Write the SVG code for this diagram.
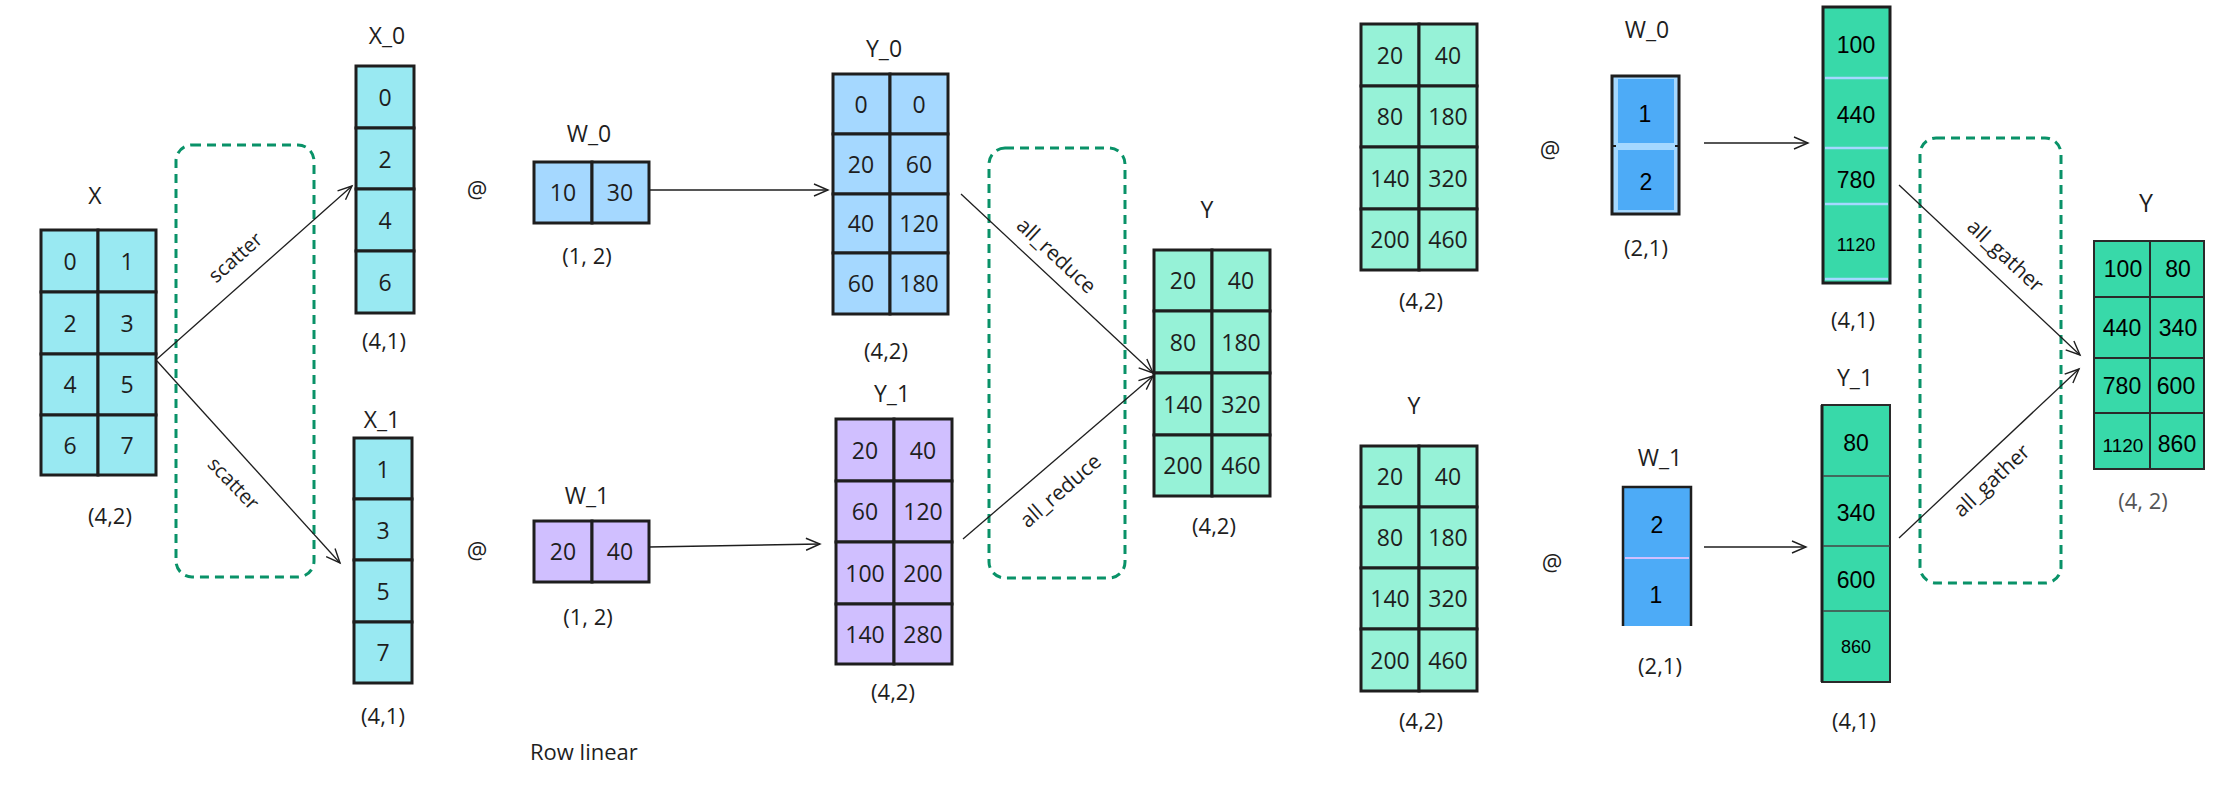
<svg xmlns="http://www.w3.org/2000/svg" width="2225" height="785" viewBox="0 0 2225 785">
<defs>
<marker id="arr" markerUnits="userSpaceOnUse" markerWidth="18" markerHeight="14" refX="15" refY="7" orient="auto">
<path d="M1,1 L15,7 L1,13" fill="none" stroke="#1e1e1e" stroke-width="1.4"/>
</marker>
</defs>
<style>
text{font-family:"Open Sans","Noto Sans","Liberation Sans",sans-serif;fill:#1e1e1e;text-anchor:middle;dominant-baseline:central}
.v{font-size:23px}
.l{font-size:22px}
.n{font-size:23px}
.s{font-size:20px}
.a{font-family:"Liberation Sans",Arial,sans-serif;fill:#000;font-size:23px}
.as{font-family:"Liberation Sans",Arial,sans-serif;fill:#000;font-size:18px}
.cy{fill:#99e9f2;stroke:#1e1e1e;stroke-width:3}
.lb{fill:#a5d8ff;stroke:#1e1e1e;stroke-width:3}
.pu{fill:#d0bfff;stroke:#1e1e1e;stroke-width:3}
.mi{fill:#96f2d7;stroke:#1e1e1e;stroke-width:3}
.gr{fill:#38d9a9;stroke:#1e1e1e;stroke-width:3}
.gr2{fill:#38d9a9;stroke:#2a2a2a;stroke-width:2}
.bl{fill:#4dabf7}
.dash{fill:none;stroke:#099268;stroke-width:3;stroke-dasharray:9 6}
.c{fill:none;stroke:#1e1e1e;stroke-width:1.3;marker-end:url(#arr)}
</style>

<g id="group-dashed">
<rect class="dash" x="176" y="145" width="138" height="432" rx="16"/>
<rect class="dash" x="989" y="148" width="136" height="430" rx="16"/>
<rect class="dash" x="1920" y="138" width="141" height="445" rx="16"/>
</g>

<g id="node-X">
<text class="n" x="95" y="195">X</text>
<rect class="cy" x="41" y="230" width="57" height="62"/><rect class="cy" x="98" y="230" width="58" height="62"/>
<rect class="cy" x="41" y="292" width="57" height="62"/><rect class="cy" x="98" y="292" width="58" height="62"/>
<rect class="cy" x="41" y="354" width="57" height="61"/><rect class="cy" x="98" y="354" width="58" height="61"/>
<rect class="cy" x="41" y="415" width="57" height="60"/><rect class="cy" x="98" y="415" width="58" height="60"/>
<text class="v" x="70" y="261">0</text><text class="v" x="127" y="261">1</text>
<text class="v" x="70" y="323">2</text><text class="v" x="127" y="323">3</text>
<text class="v" x="70" y="384">4</text><text class="v" x="127" y="384">5</text>
<text class="v" x="70" y="445">6</text><text class="v" x="127" y="445">7</text>
<text class="l" x="110" y="515">(4,2)</text>
</g>

<g id="node-X0">
<text class="n" x="387" y="35">X_0</text>
<rect class="cy" x="356" y="66" width="58" height="62"/>
<rect class="cy" x="356" y="128" width="58" height="61"/>
<rect class="cy" x="356" y="189" width="58" height="62"/>
<rect class="cy" x="356" y="251" width="58" height="62"/>
<text class="v" x="385" y="97">0</text><text class="v" x="385" y="159">2</text>
<text class="v" x="385" y="220">4</text><text class="v" x="385" y="282">6</text>
<text class="l" x="384" y="340">(4,1)</text>
</g>

<g id="node-X1">
<text class="n" x="382" y="419">X_1</text>
<rect class="cy" x="354" y="438" width="58" height="61"/>
<rect class="cy" x="354" y="499" width="58" height="61"/>
<rect class="cy" x="354" y="560" width="58" height="62"/>
<rect class="cy" x="354" y="622" width="58" height="61"/>
<text class="v" x="383" y="469">1</text><text class="v" x="383" y="530">3</text>
<text class="v" x="383" y="591">5</text><text class="v" x="383" y="652">7</text>
<text class="l" x="383" y="715">(4,1)</text>
</g>

<g id="node-at1"><text class="v" x="477" y="189">@</text></g>
<g id="node-at2"><text class="v" x="477" y="550">@</text></g>

<g id="node-W0">
<text class="n" x="589" y="133">W_0</text>
<rect class="lb" x="534" y="162" width="58" height="61"/><rect class="lb" x="592" y="162" width="57" height="61"/>
<text class="v" x="563" y="192">10</text><text class="v" x="620" y="192">30</text>
<text class="l" x="587" y="255">(1, 2)</text>
</g>

<g id="node-W1">
<text class="n" x="587" y="495">W_1</text>
<rect class="pu" x="534" y="521" width="58" height="61"/><rect class="pu" x="592" y="521" width="57" height="61"/>
<text class="v" x="563" y="551">20</text><text class="v" x="620" y="551">40</text>
<text class="l" x="588" y="616">(1, 2)</text>
</g>

<g id="node-Y0">
<text class="n" x="884" y="48">Y_0</text>
<rect class="lb" x="833" y="74" width="57" height="60"/><rect class="lb" x="890" y="74" width="58" height="60"/>
<rect class="lb" x="833" y="134" width="57" height="60"/><rect class="lb" x="890" y="134" width="58" height="60"/>
<rect class="lb" x="833" y="194" width="57" height="59"/><rect class="lb" x="890" y="194" width="58" height="59"/>
<rect class="lb" x="833" y="253" width="57" height="61"/><rect class="lb" x="890" y="253" width="58" height="61"/>
<text class="v" x="861" y="104">0</text><text class="v" x="919" y="104">0</text>
<text class="v" x="861" y="164">20</text><text class="v" x="919" y="164">60</text>
<text class="v" x="861" y="223">40</text><text class="v" x="919" y="223">120</text>
<text class="v" x="861" y="283">60</text><text class="v" x="919" y="283">180</text>
<text class="l" x="886" y="350">(4,2)</text>
</g>

<g id="node-Y1">
<text class="n" x="892" y="393">Y_1</text>
<rect class="pu" x="836" y="419" width="58" height="62"/><rect class="pu" x="894" y="419" width="58" height="62"/>
<rect class="pu" x="836" y="481" width="58" height="61"/><rect class="pu" x="894" y="481" width="58" height="61"/>
<rect class="pu" x="836" y="542" width="58" height="62"/><rect class="pu" x="894" y="542" width="58" height="62"/>
<rect class="pu" x="836" y="604" width="58" height="60"/><rect class="pu" x="894" y="604" width="58" height="60"/>
<text class="v" x="865" y="450">20</text><text class="v" x="923" y="450">40</text>
<text class="v" x="865" y="511">60</text><text class="v" x="923" y="511">120</text>
<text class="v" x="865" y="573">100</text><text class="v" x="923" y="573">200</text>
<text class="v" x="865" y="634">140</text><text class="v" x="923" y="634">280</text>
<text class="l" x="893" y="691">(4,2)</text>
</g>

<g id="node-Y">
<text class="n" x="1207" y="209">Y</text>
<rect class="mi" x="1154" y="250" width="58" height="61"/><rect class="mi" x="1212" y="250" width="58" height="61"/>
<rect class="mi" x="1154" y="311" width="58" height="62"/><rect class="mi" x="1212" y="311" width="58" height="62"/>
<rect class="mi" x="1154" y="373" width="58" height="62"/><rect class="mi" x="1212" y="373" width="58" height="62"/>
<rect class="mi" x="1154" y="435" width="58" height="61"/><rect class="mi" x="1212" y="435" width="58" height="61"/>
<text class="v" x="1183" y="280">20</text><text class="v" x="1241" y="280">40</text>
<text class="v" x="1183" y="342">80</text><text class="v" x="1241" y="342">180</text>
<text class="v" x="1183" y="404">140</text><text class="v" x="1241" y="404">320</text>
<text class="v" x="1183" y="465">200</text><text class="v" x="1241" y="465">460</text>
<text class="l" x="1214" y="525">(4,2)</text>
</g>

<g id="node-Ytop">
<rect class="mi" x="1361" y="24" width="58" height="62"/><rect class="mi" x="1419" y="24" width="58" height="62"/>
<rect class="mi" x="1361" y="86" width="58" height="61"/><rect class="mi" x="1419" y="86" width="58" height="61"/>
<rect class="mi" x="1361" y="147" width="58" height="62"/><rect class="mi" x="1419" y="147" width="58" height="62"/>
<rect class="mi" x="1361" y="209" width="58" height="61"/><rect class="mi" x="1419" y="209" width="58" height="61"/>
<text class="v" x="1390" y="55">20</text><text class="v" x="1448" y="55">40</text>
<text class="v" x="1390" y="116">80</text><text class="v" x="1448" y="116">180</text>
<text class="v" x="1390" y="178">140</text><text class="v" x="1448" y="178">320</text>
<text class="v" x="1390" y="239">200</text><text class="v" x="1448" y="239">460</text>
<text class="l" x="1421" y="300">(4,2)</text>
</g>

<g id="node-Ybot">
<text class="n" x="1414" y="405">Y</text>
<rect class="mi" x="1361" y="446" width="58" height="61"/><rect class="mi" x="1419" y="446" width="58" height="61"/>
<rect class="mi" x="1361" y="507" width="58" height="61"/><rect class="mi" x="1419" y="507" width="58" height="61"/>
<rect class="mi" x="1361" y="568" width="58" height="61"/><rect class="mi" x="1419" y="568" width="58" height="61"/>
<rect class="mi" x="1361" y="629" width="58" height="62"/><rect class="mi" x="1419" y="629" width="58" height="62"/>
<text class="v" x="1390" y="476">20</text><text class="v" x="1448" y="476">40</text>
<text class="v" x="1390" y="537">80</text><text class="v" x="1448" y="537">180</text>
<text class="v" x="1390" y="598">140</text><text class="v" x="1448" y="598">320</text>
<text class="v" x="1390" y="660">200</text><text class="v" x="1448" y="660">460</text>
<text class="l" x="1421" y="720">(4,2)</text>
</g>

<g id="node-at3"><text class="v" x="1550" y="149">@</text></g>
<g id="node-at4"><text class="v" x="1552" y="562">@</text></g>

<g id="node-W0r">
<text class="n" x="1647" y="29">W_0</text>
<rect x="1612" y="76" width="67" height="138" fill="#a5d8ff" stroke="#1e1e1e" stroke-width="3"/>
<rect class="bl" x="1618" y="79" width="56" height="64"/>
<rect class="bl" x="1618" y="150" width="56" height="60"/>
<line x1="1612" y1="146" x2="1616" y2="146" stroke="#1e1e1e" stroke-width="2"/>
<line x1="1675" y1="146" x2="1679" y2="146" stroke="#1e1e1e" stroke-width="2"/>
<text class="a" x="1645" y="114">1</text>
<text class="a" x="1646" y="182">2</text>
<text class="l" x="1646" y="247">(2,1)</text>
</g>

<g id="node-W1r">
<text class="n" x="1660" y="457">W_1</text>
<rect class="bl" x="1623" y="487" width="68" height="139"/>
<path d="M1623,626 V487 H1691 V626" fill="none" stroke="#1e1e1e" stroke-width="2.5"/>
<line x1="1625" y1="558" x2="1689" y2="558" stroke="#d0bfff" stroke-width="2"/>
<text class="a" x="1657" y="525">2</text>
<text class="a" x="1656" y="595">1</text>
<text class="l" x="1660" y="665">(2,1)</text>
</g>

<g id="node-Y0r">
<rect class="gr" x="1823" y="7" width="67" height="276"/>
<g stroke="#a5d8ff" stroke-width="2.5">
<line x1="1825" y1="78" x2="1888" y2="78"/><line x1="1825" y1="148" x2="1888" y2="148"/>
<line x1="1825" y1="204" x2="1888" y2="204"/><line x1="1825" y1="279" x2="1888" y2="279"/>
</g>
<text class="a" x="1856" y="45">100</text>
<text class="a" x="1856" y="115">440</text>
<text class="a" x="1856" y="180">780</text>
<text class="as" x="1856" y="245">1120</text>
<text class="l" x="1853" y="319">(4,1)</text>
</g>

<g id="node-Y1r">
<text class="n" x="1855" y="377">Y_1</text>
<rect class="gr2" x="1822" y="405" width="68" height="277"/>
<line x1="1822" y1="405" x2="1822" y2="682" stroke="#1e1e1e" stroke-width="3"/>
<g stroke="#444" stroke-width="1.5">
<line x1="1823" y1="476" x2="1890" y2="476"/><line x1="1823" y1="546" x2="1890" y2="546"/>
<line x1="1823" y1="611" x2="1890" y2="611"/>
</g>
<text class="a" x="1856" y="443">80</text>
<text class="a" x="1856" y="513">340</text>
<text class="a" x="1856" y="580">600</text>
<text class="as" x="1856" y="647">860</text>
<text class="l" x="1854" y="720">(4,1)</text>
</g>

<g id="node-Yfinal">
<text class="n" x="2146" y="202" style="font-size:25px">Y</text>
<rect class="gr2" x="2094" y="241" width="56" height="56"/><rect class="gr2" x="2150" y="241" width="54" height="56"/>
<rect class="gr2" x="2094" y="297" width="56" height="61"/><rect class="gr2" x="2150" y="297" width="54" height="61"/>
<rect class="gr2" x="2094" y="358" width="56" height="55"/><rect class="gr2" x="2150" y="358" width="54" height="55"/>
<rect class="gr2" x="2094" y="413" width="56" height="56"/><rect class="gr2" x="2150" y="413" width="54" height="56"/>
<text class="a" x="2123" y="269">100</text><text class="a" x="2178" y="269">80</text>
<text class="a" x="2122" y="328">440</text><text class="a" x="2178" y="328">340</text>
<text class="a" x="2122" y="386">780</text><text class="a" x="2176" y="386">600</text>
<text class="as" x="2123" y="445" style="font-size:19px">1120</text><text class="a" x="2177" y="444">860</text>
<text class="l" x="2143" y="500" style="fill:#555">(4, 2)</text>
</g>

<g id="connectors">
<line class="c" x1="157" y1="359" x2="352" y2="186"/>
<line class="c" x1="157" y1="361" x2="340" y2="563"/>
<line class="c" x1="649" y1="190" x2="828" y2="190"/>
<line class="c" x1="649" y1="547" x2="820" y2="544"/>
<line class="c" x1="961" y1="194" x2="1153" y2="373"/>
<line class="c" x1="963" y1="539" x2="1153" y2="376"/>
<line class="c" x1="1704" y1="143" x2="1808" y2="143"/>
<line class="c" x1="1704" y1="547" x2="1806" y2="547"/>
<line class="c" x1="1899" y1="185" x2="2080" y2="355"/>
<line class="c" x1="1899" y1="538" x2="2079" y2="369"/>
<text class="s" transform="translate(235,257) rotate(-41.6)">scatter</text>
<text class="s" transform="translate(234,483) rotate(46)">scatter</text>
<text class="s" transform="translate(1057,255) rotate(43)" style="font-size:21px">all_reduce</text>
<text class="s" transform="translate(1060,490) rotate(-41)" style="font-size:21px">all_reduce</text>
<text class="s" transform="translate(2006,255) rotate(43)" style="font-size:21px">all_gather</text>
<text class="s" transform="translate(1991,480) rotate(-43)" style="font-size:21px">all_gather</text>
</g>

<g id="caption">
<text class="l" x="530" y="751" style="text-anchor:start">Row linear</text>
</g>
</svg>
